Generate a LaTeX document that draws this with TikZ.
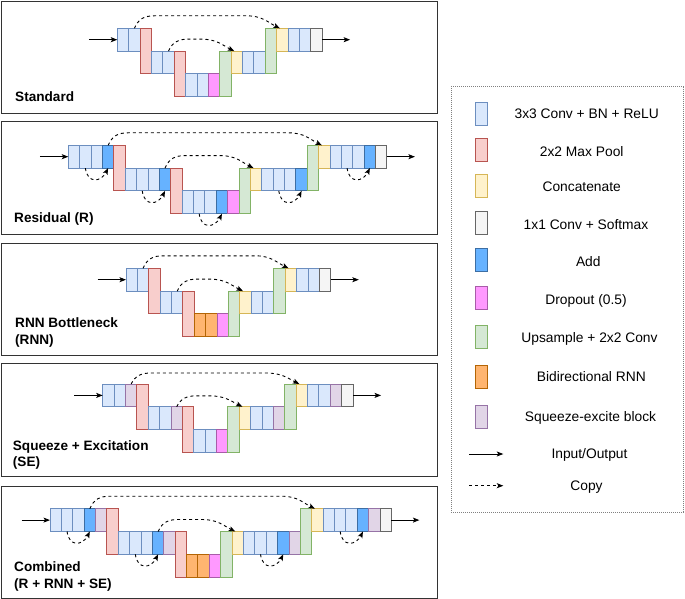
\documentclass[tikz,border=0pt]{standalone}
\usepackage{fontspec}
\setmainfont{Liberation Sans}
\usetikzlibrary{arrows.meta,calc}
\definecolor{bluF}{HTML}{DAE8FC}\definecolor{bluD}{HTML}{6C8EBF}
\definecolor{redF}{HTML}{F8CECC}\definecolor{redD}{HTML}{B85450}
\definecolor{yelF}{HTML}{FFF2CC}\definecolor{yelD}{HTML}{D6B656}
\definecolor{gryF}{HTML}{F5F5F5}\definecolor{gryD}{HTML}{666666}
\definecolor{addF}{HTML}{66B2FF}\definecolor{addD}{HTML}{3D6EA3}
\definecolor{magF}{HTML}{FF99FF}\definecolor{magD}{HTML}{A85CA8}
\definecolor{grnF}{HTML}{D5E8D4}\definecolor{grnD}{HTML}{82B366}
\definecolor{orgF}{HTML}{FFB570}\definecolor{orgD}{HTML}{B46504}
\definecolor{purF}{HTML}{E1D5E7}\definecolor{purD}{HTML}{9673A6}
\definecolor{frameC}{HTML}{333333}
\tikzset{
  cell/.style={draw, line width=0.9pt, inner sep=0pt, outer sep=0pt,
    minimum width=11.38pt, minimum height=22.8pt, anchor=north west},
  cblu/.style={cell, fill=bluF, draw=bluD},
  cred/.style={cell, fill=redF, draw=redD},
  cyel/.style={cell, fill=yelF, draw=yelD},
  cgry/.style={cell, fill=gryF, draw=gryD},
  cadd/.style={cell, fill=addF, draw=addD},
  cmag/.style={cell, fill=magF, draw=magD},
  cgrn/.style={cell, fill=grnF, draw=grnD},
  corg/.style={cell, fill=orgF, draw=orgD},
  cpur/.style={cell, fill=purF, draw=purD},
  h1/.style={minimum height=22.8pt},
  h2/.style={minimum height=45.6pt},
  swatch/.style={minimum width=11.6pt, minimum height=23pt},
  io/.style={line width=0.9pt, black, -{Stealth[length=6.5pt,width=5pt,inset=1.5pt]}},
  copy/.style={io, dash pattern=on 3pt off 3pt},
  panel/.style={draw=frameC, line width=1pt},
  lbl/.style={font=\fontsize{13.6}{16.3}\selectfont\bfseries, anchor=base west, align=left, inner sep=0pt},
  leg/.style={font=\fontsize{13.8}{16}\selectfont, anchor=base, inner sep=0pt},
}
\newcommand\panelcells[4]{%
  \foreach \st/\r/\t [count=\k from 0] in {#4} {
    \node[c\st, h\t] (#1-\k) at ({#2+\k*11.38},{#3+\r*22.8}) {};
  }%
}
\newcommand\longcopy[3]{%
  \draw[copy] (#1.north) .. controls +(4,{-#3*0.75}) and +(-10,0) .. ($(#1.north)+(20,-#3)$)
    -- ($(#2.north)+(-36,-#3)$) .. controls +(16,0) and +(-12,-6) .. ([xshift=-2.5pt]#2.north);%
}
\newcommand\rescopy[2]{%
  \draw[copy] (#1.south) .. controls +(2,16) and +(-7,14) .. (#2.south);%
}
\newcommand\iolines[4]{% prefix, first, last, y
  \coordinate (#1in) at ($(#1-#2.west)+(-28.5,0)$);
  \coordinate (#1out) at ($(#1-#3.east)+(28,0)$);
  \draw[io] (#1in) -- (#1-#2.west);
  \draw[io] (#1-#3.east) -- (#1out);%
}
\begin{document}
\begin{tikzpicture}[x=1pt,y=-1pt]
\useasboundingbox (0,0) rectangle (685,599);
% panels
\draw[panel] (1.5,1.5) rectangle (437,113.5);
\draw[panel] (1.5,121.5) rectangle (437,234.5);
\draw[panel] (1.5,243) rectangle (437,355.5);
\draw[panel] (1.5,363.5) rectangle (437,476.5);
\draw[panel] (1.5,486) rectangle (437,598);

% ---- Standard
\panelcells{pa}{117.3}{28.3}{blu/0/1,blu/0/1,red/0/2,blu/1/1,blu/1/1,red/1/2,blu/2/1,blu/2/1,mag/2/1,grn/1/2,yel/1/1,blu/1/1,blu/1/1,grn/0/2,yel/0/1,blu/0/1,blu/0/1,gry/0/1}
\iolines{pa}{0}{17}{}
\longcopy{pa-1}{pa-14}{12.5}
\longcopy{pa-4}{pa-10}{12}
\node[lbl] (la) at (15,101.7) {Standard};

% ---- Residual
\panelcells{pb}{68.3}{145.3}{blu/0/1,blu/0/1,blu/0/1,add/0/1,red/0/2,blu/1/1,blu/1/1,blu/1/1,add/1/1,red/1/2,blu/2/1,blu/2/1,blu/2/1,add/2/1,mag/2/1,grn/1/2,yel/1/1,blu/1/1,blu/1/1,blu/1/1,add/1/1,grn/0/2,yel/0/1,blu/0/1,blu/0/1,blu/0/1,add/0/1,gry/0/1}
\iolines{pb}{0}{27}{}
\longcopy{pb-3}{pb-22}{12.5}
\longcopy{pb-8}{pb-16}{12.5}
\rescopy{pb-1}{pb-3}
\rescopy{pb-6}{pb-8}
\rescopy{pb-11}{pb-13}
\rescopy{pb-18}{pb-20}
\rescopy{pb-24}{pb-26}
\node[lbl] (lb) at (14,222.3) {Residual (R)};

% ---- RNN
\panelcells{pc}{126}{268.3}{blu/0/1,blu/0/1,red/0/2,blu/1/1,blu/1/1,red/1/2,org/2/1,org/2/1,mag/2/1,grn/1/2,yel/1/1,blu/1/1,blu/1/1,grn/0/2,yel/0/1,blu/0/1,blu/0/1,gry/0/1}
\iolines{pc}{0}{17}{}
\longcopy{pc-1}{pc-14}{12.5}
\longcopy{pc-4}{pc-10}{12}
\node[lbl] (lc) at (15,344) {RNN Bottleneck\\(RNN)};

% ---- SE
\panelcells{pd}{102.7}{384}{blu/0/1,blu/0/1,pur/0/1,red/0/2,blu/1/1,blu/1/1,pur/1/1,red/1/2,blu/2/1,blu/2/1,mag/2/1,grn/1/2,yel/1/1,blu/1/1,blu/1/1,pur/1/1,grn/0/2,yel/0/1,blu/0/1,blu/0/1,pur/0/1,gry/0/1}
\iolines{pd}{0}{21}{}
\longcopy{pd-2}{pd-17}{11}
\longcopy{pd-6}{pd-12}{11}
\node[lbl] (ld) at (12.7,466.7) {Squeeze + Excitation\\(SE)};

% ---- Combined
\panelcells{pe}{50}{508.7}{blu/0/1,blu/0/1,blu/0/1,add/0/1,pur/0/1,red/0/2,blu/1/1,blu/1/1,blu/1/1,add/1/1,pur/1/1,red/1/2,org/2/1,org/2/1,mag/2/1,grn/1/2,yel/1/1,blu/1/1,blu/1/1,blu/1/1,add/1/1,pur/1/1,grn/0/2,yel/0/1,blu/0/1,blu/0/1,blu/0/1,add/0/1,pur/0/1,gry/0/1}
\iolines{pe}{0}{29}{}
\longcopy{pe-3}{pe-23}{12.5}
\longcopy{pe-9}{pe-16}{12}
\rescopy{pe-1}{pe-3}
\rescopy{pe-7}{pe-9}
\rescopy{pe-18}{pe-20}
\rescopy{pe-25}{pe-27}
\node[lbl] (le) at (14,588) {Combined\\(R + RNN + SE)};

% ---- Legend
\draw[gray, dash pattern=on 1pt off 1pt, line width=0.8pt] (451,86) rectangle (683.3,512);
\node[cblu,swatch] (s1) at (475.7,102.7) {};
\node[cred,swatch] (s2) at (475.7,138.8) {};
\node[cyel,swatch] (s3) at (475.7,174.3) {};
\node[cgry,swatch] (s4) at (475.7,211.8) {};
\node[cadd,swatch] (s5) at (475.7,248.5) {};
\node[cmag,swatch] (s6) at (475.7,286.8) {};
\node[cgrn,swatch] (s7) at (475.7,325.8) {};
\node[corg,swatch] (s8) at (475.7,365.8) {};
\node[cpur,swatch] (s9) at (475.7,405.2) {};
\node[leg] (t1) at (586.7,119) {3x3 Conv + BN + ReLU};
\node[leg] (t2) at (581.7,156) {2x2 Max Pool};
\node[leg] (t3) at (581.7,191.7) {Concatenate};
\node[leg] (t4) at (586,229.3) {1x1 Conv + Softmax};
\node[leg] (t5) at (588.3,266.7) {Add};
\node[leg] (t6) at (586,304) {Dropout (0.5)};
\node[leg] (t7) at (589.5,342.3) {Upsample + 2x2 Conv};
\node[leg] (t8) at (591.3,381) {Bidirectional RNN};
\node[leg] (t9) at (590.5,421.7) {Squeeze-excite block};
\node[leg] (t10) at (589.5,458.3) {Input/Output};
\node[leg] (t11) at (586.5,490) {Copy};
\coordinate (ioa) at (469.3,454);
\coordinate (iob) at (503.3,454);
\coordinate (cpa) at (469.3,485.7);
\coordinate (cpb) at (503.3,485.7);
\draw[io] (ioa) -- (iob);
\draw[copy] (cpa) -- (cpb);
\end{tikzpicture}
\end{document}
